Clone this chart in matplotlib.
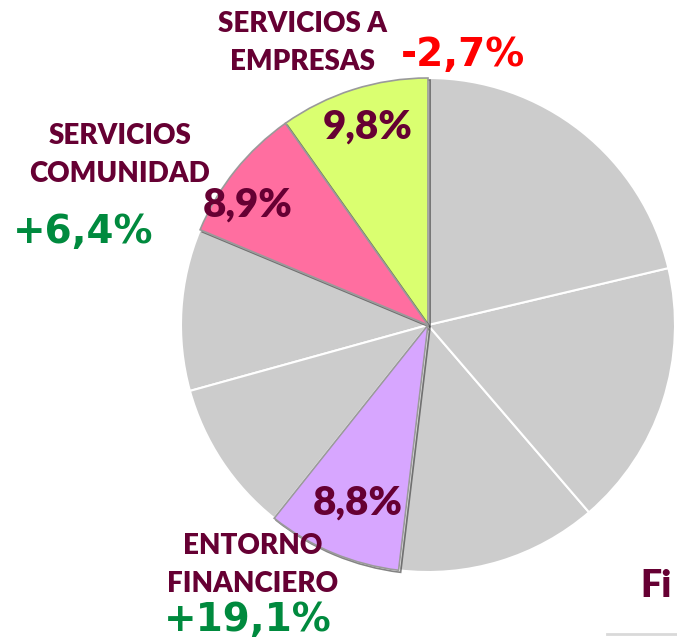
import matplotlib.pyplot as plt
import matplotlib.patheffects as pe

# shares counter-clockwise from 12 o'clock
shares = [9.8, 8.9, 10.6, 10.0, 8.8, 13.2, 17.4, 21.3]
slice_colors = ["#DAFF70", "#FF6EA0", "#CCCCCC", "#CCCCCC", "#D7A6FF",
                "#CCCCCC", "#CCCCCC", "#CCCCCC"]
share_labels = ["9,8%", "8,9%", "", "", "8,8%", "", "", ""]
sector_names = ["SERVICIOS A\nEMPRESAS", "SERVICIOS\nCOMUNIDAD", "ENTORNO\nFINANCIERO"]
changes = ["-2,7%", "+6,4%", "+19,1%"]

maroon = "#660033"
green = "#008A3E"
red = "#FF0000"
plt.rcParams["font.family"] = ["Lato", "DejaVu Sans"]

fig = plt.figure(figsize=(6.77, 6.4), dpi=100)
ax = fig.add_axes([0, 0, 1, 1])

H = 640
wedges, _ = ax.pie(shares, colors=slice_colors, startangle=90, counterclock=True,
                   center=(428, H - 325), radius=247, frame=True,
                   wedgeprops=dict(edgecolor="white", linewidth=1.5))
for w, c in zip(wedges, slice_colors):
    if c != "#CCCCCC":
        w.set_edgecolor("#9A9A9A")
        w.set_linewidth(1.2)
        w.set_path_effects([pe.SimpleLineShadow(offset=(1.5, -1.5), shadow_color="#333333", alpha=0.6),
                            pe.Normal()])
        w.set_zorder(3)

ax.set_xlim(0, 677)
ax.set_ylim(0, H)
ax.set_aspect("equal")
ax.axis("off")

# percentage labels in slices
pos_share = {0: (368, 127), 1: (248, 205), 4: (358, 503)}
for i, (x, y) in pos_share.items():
    ax.text(x, H - y, share_labels[i], ha="center", va="center", fontsize=29,
            fontweight="heavy", color=maroon, zorder=5)

# sector names
name_pos = [(302, 43), (120, 155), (253, 565)]
for name, (x, y) in zip(sector_names, name_pos):
    ax.text(x, H - y, name, ha="center", va="center", fontsize=20, fontweight="heavy",
            color=maroon, linespacing=1.55, zorder=5)

# year-on-year changes
chg_pos = [(463, 55, red), (83, 232, green), (248, 620, green)]
for txt, (x, y, col) in zip(changes, chg_pos):
    ax.text(x, H - y, txt, ha="center", va="center", fontsize=28, fontweight="bold",
            family="DejaVu Sans", color=col, zorder=5)

ax.text(640, H - 586, "Fi", ha="left", va="center", fontsize=27, fontweight="heavy",
        color=maroon, zorder=5)
ax.plot([607, 677], [H - 634, H - 634], color="#D9D9D9", lw=2)

fig.savefig("out.png", dpi=100)
